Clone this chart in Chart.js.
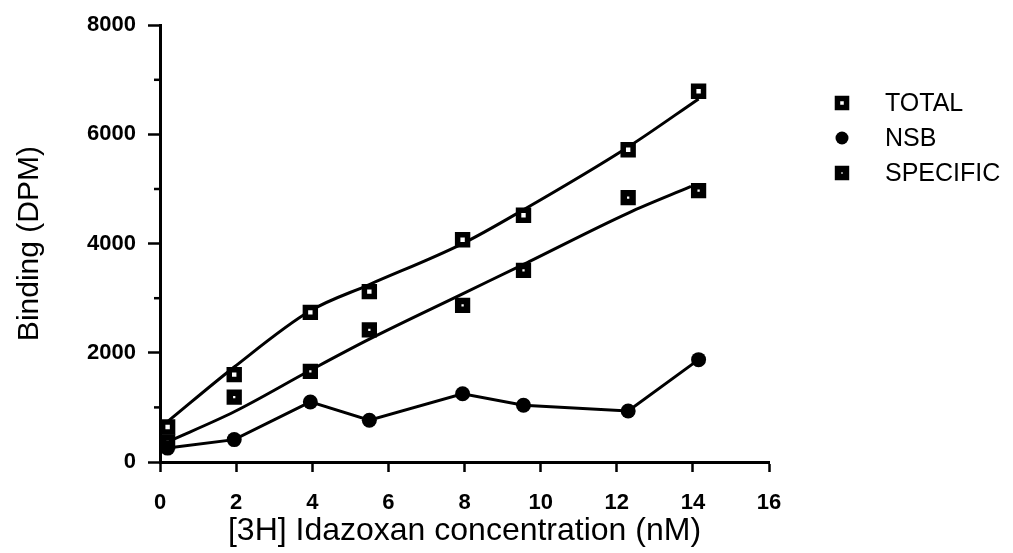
<!DOCTYPE html>
<html>
<head>
<meta charset="utf-8">
<script src="https://cdn.jsdelivr.net/npm/chart.js@4/dist/chart.umd.min.js"></script>
<style>
  html, body { margin: 0; padding: 0; background: #fff; }
  #wrap { width: 1013px; height: 553px; }
</style>
</head>
<body>
<div id="wrap"><canvas id="bindingChart" width="1013" height="553"></canvas></div>
<script>
// [3H] idazoxan concentration (nM) for each measurement
const conc = [0.2, 1.95, 3.95, 5.5, 7.95, 9.55, 12.3, 14.15];

// Binding (DPM)
const total    = [640, 1600, 2740, 3120, 4070, 4520, 5720, 6790];
const nsb      = [255, 410, 1100, 765, 1250, 1040, 935, 1875];
const specific = [370, 1190, 1660, 2420, 2870, 3510, 4840, 4970];

// fitted curves drawn through the total and specific points
const totalFit    = [740, 1740, 2770, 3250, 4000, 4620, 5770, 6650];
const specFitConc = [0.2, 1.95, 3.95, 5.5, 7.95, 9.55, 12.3, 13.95];
const specificFit = [370, 920, 1680, 2250, 3080, 3620, 4560, 5046];

const xTicks = [0, 2, 4, 6, 8, 10, 12, 14, 16];
const yLabels = [0, 2000, 4000, 6000, 8000];

const FONT = "'Liberation Sans', Arial, Helvetica, sans-serif";

function pts(xs, ys) {
  return xs.map((x, i) => ({ x: x, y: ys[i] }));
}

// short ticks at the odd thousands on the y axis
const minorTicks = {
  id: "minorTicks",
  afterDraw(chart) {
    const ctx = chart.ctx;
    const y = chart.scales.y;
    ctx.save();
    ctx.strokeStyle = "#000";
    ctx.lineWidth = 2.5;
    for (let v = 1000; v < 8000; v += 2000) {
      const py = y.getPixelForValue(v);
      ctx.beginPath();
      ctx.moveTo(y.right - 6, py);
      ctx.lineTo(y.right, py);
      ctx.stroke();
    }
    ctx.restore();
  }
};

// key on the right, one row per marker series
const sideKey = {
  id: "sideKey",
  afterDraw(chart) {
    const ctx = chart.ctx;
    const mx = 842, tx = 885;
    let row = 103;
    ctx.save();
    ctx.font = "25px " + FONT;
    ctx.textBaseline = "middle";
    chart.data.datasets.forEach(ds => {
      if (!ds.inKey) return;
      ctx.fillStyle = "#000";
      if (ds.pointStyle === "circle") {
        ctx.beginPath();
        ctx.arc(mx, row, 6.5, 0, Math.PI * 2);
        ctx.fill();
      } else {
        const s = (ds.pointRadius - 0.6) * Math.SQRT1_2;
        ctx.fillStyle = "#fff";
        ctx.strokeStyle = "#000";
        ctx.lineWidth = ds.pointBorderWidth;
        ctx.beginPath();
        ctx.rect(mx - s, row - s, 2 * s, 2 * s);
        ctx.fill();
        ctx.stroke();
      }
      ctx.fillStyle = "#000";
      ctx.fillText(ds.label, tx, row + 1);
      row += 35;
    });
    ctx.restore();
  }
};

new Chart(document.getElementById("bindingChart"), {
  type: "scatter",
  data: {
    datasets: [
      {
        label: "TOTAL",
        inKey: true,
        data: pts(conc, total),
        showLine: false,
        pointStyle: "rect",
        pointRadius: 7,
        pointBorderWidth: 5.5,
        pointBackgroundColor: "#fff",
        pointBorderColor: "#000"
      },
      {
        label: "NSB",
        inKey: true,
        data: pts(conc, nsb),
        showLine: true,
        borderColor: "#000",
        borderWidth: 3,
        pointStyle: "circle",
        pointRadius: 7.5,
        pointBorderWidth: 0,
        pointBackgroundColor: "#000"
      },
      {
        label: "SPECIFIC",
        inKey: true,
        data: pts(conc, specific),
        showLine: false,
        pointStyle: "rect",
        pointRadius: 6.2,
        pointBorderWidth: 6.5,
        pointBackgroundColor: "#fff",
        pointBorderColor: "#000"
      },
      {
        label: "total fit",
        data: pts(conc, totalFit),
        showLine: true,
        borderColor: "#000",
        borderWidth: 3,
        cubicInterpolationMode: "monotone",
        pointRadius: 0
      },
      {
        label: "specific fit",
        data: pts(specFitConc, specificFit),
        showLine: true,
        borderColor: "#000",
        borderWidth: 3,
        cubicInterpolationMode: "monotone",
        pointRadius: 0
      }
    ]
  },
  options: {
    responsive: false,
    animation: false,
    layout: { padding: { left: 0, right: 244, top: 23, bottom: 0 } },
    plugins: {
      legend: { display: false },
      tooltip: { enabled: false }
    },
    scales: {
      x: {
        type: "linear",
        min: 0,
        max: 16,
        afterBuildTicks: scale => { scale.ticks = xTicks.map(v => ({ value: v })); },
        afterFit: scale => { scale.height = 91; },
        border: { display: true, color: "#000", width: 3 },
        grid: { display: true, drawOnChartArea: false, drawTicks: true, tickLength: 10, tickColor: "#000", tickWidth: 2.5 },
        ticks: {
          color: "#000",
          padding: 18,
          font: { family: FONT, size: 22, weight: "bold" },
          maxRotation: 0,
          callback: v => String(v)
        },
        title: {
          display: true,
          text: "[3H] Idazoxan concentration (nM)",
          color: "#000",
          font: { family: FONT, size: 32 },
          padding: { top: 0, bottom: 3 }
        }
      },
      y: {
        type: "linear",
        min: 0,
        max: 8000,
        afterBuildTicks: scale => { scale.ticks = yLabels.map(v => ({ value: v })); },
        afterFit: scale => { scale.width = 160; },
        border: { display: true, color: "#000", width: 3 },
        grid: { display: true, drawOnChartArea: false, drawTicks: true, tickLength: 12, tickColor: "#000", tickWidth: 2.5 },
        ticks: {
          color: "#000",
          padding: 12,
          font: { family: FONT, size: 22, weight: "bold" },
          callback: v => String(v)
        },
        title: {
          display: true,
          text: "Binding (DPM)",
          color: "#000",
          font: { family: FONT, size: 30 },
          padding: { top: 12, bottom: 0 }
        }
      }
    }
  },
  plugins: [minorTicks, sideKey]
});
</script>
</body>
</html>
